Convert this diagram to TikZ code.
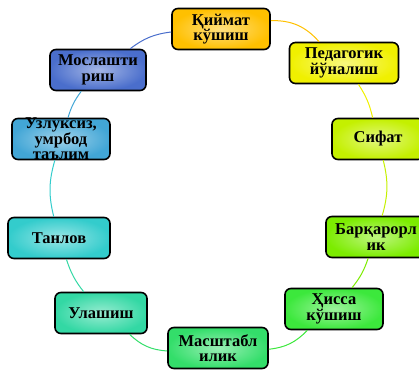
\documentclass[tikz,border=0pt]{standalone}
\usepackage{fontspec}
\setmainfont{Liberation Serif}
\definecolor{c1}{HTML}{FFC000}
\definecolor{c2}{HTML}{F0F000}
\definecolor{c3}{HTML}{C4F000}
\definecolor{c4}{HTML}{7CEC00}
\definecolor{c5}{HTML}{3CE83C}
\definecolor{c6}{HTML}{33DE6A}
\definecolor{c7}{HTML}{33D8A4}
\definecolor{c8}{HTML}{33CCCC}
\definecolor{c9}{HTML}{42A6D6}
\definecolor{c10}{HTML}{4A6ECC}

\begin{document}
\begin{tikzpicture}[x=1pt,y=-1pt,
  main node/.style={rectangle,rounded corners=6pt,draw=black,line width=1.6pt,
    minimum height=41pt,inner sep=2pt,align=center,
    inner color=#1!50!white,outer color=#1,
    font=\bfseries\fontsize{16.5}{15.5}\selectfont},
  link/.style={line width=1pt,draw=#1}]

  \useasboundingbox (0,0) rectangle (419,371);

  \node[main node=c1, minimum width=98pt] (1) at (221,29) {Қиймат\\кўшиш};
  \node[main node=c2, minimum width=109pt] (2) at (344,63) {Педагогик\\йўналиш};
  \node[main node=c3, minimum width=92pt] (3) at (378,139) {Сифат};
  \node[main node=c4, minimum width=100pt] (4) at (376,237) {Барқарорл\\ик};
  \node[main node=c5, minimum width=98pt] (5) at (334,309) {Ҳисса\\кўшиш};
  \node[main node=c6, minimum width=100pt] (6) at (218,348) {Масштабл\\илик};
  \node[main node=c7, minimum width=92pt] (7) at (101,313) {Улашиш};
  \node[main node=c8, minimum width=102pt] (8) at (59,238) {Танлов};
  \node[main node=c9, minimum width=98pt, inner ysep=-4pt] (9) at (61,139) {Узлуксиз,\\умрбод\\таълим};
  \node[main node=c10, minimum width=96pt] (10) at (98,70) {Мослашти\\риш};

  \path
    (1) edge[link=c1, bend left=25] (2)
    (2) edge[link=c2, bend left=10] (3)
    (3) edge[link=c3, bend left=15] (4)
    (4) edge[link=c4, bend left=10] (5)
    (5) edge[link=c5, bend left=20] (6)
    (6) edge[link=c6, bend left=20] (7)
    (7) edge[link=c7, bend left=10] (8)
    (8) edge[link=c8, bend left=15] (9)
    (9) edge[link=c9, bend left=10] (10)
    (10) edge[link=c10, bend left=15] (1);
\end{tikzpicture}
\end{document}
